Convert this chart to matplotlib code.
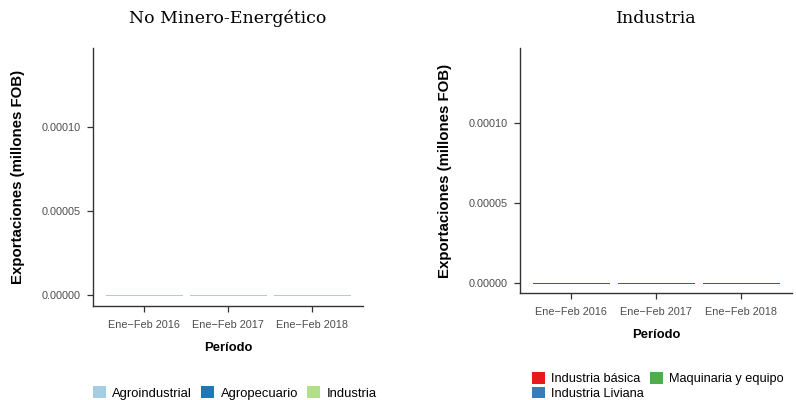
import matplotlib.pyplot as plt
from matplotlib.patches import Patch

plt.rcParams['font.family'] = ['Liberation Sans', 'DejaVu Sans']

periodos = ["Ene\u2212Feb 2016", "Ene\u2212Feb 2017", "Ene\u2212Feb 2018"]

# No Minero-Energético (millones FOB)
grupos_nme = ["Agroindustrial", "Agropecuario", "Industria"]
agroindustrial = [0.0, 0.0, 0.0]
agropecuario = [0.0, 0.0, 0.0]
industria = [0.0, 0.0, 0.0]
colores_nme = ["#A6CEE3", "#1F78B4", "#B2DF8A"]

# Industria (millones FOB)
grupos_ind = ["Industria básica", "Industria Liviana", "Maquinaria y equipo"]
ind_basica = [0.0, 0.0, 0.0]
ind_liviana = [0.0, 0.0, 0.0]
maquinaria = [0.0, 0.0, 0.0]
colores_ind = ["#E41A1C", "#377EB8", "#4DAF4A"]

yticks = [0.0, 0.00005, 0.00010]
yticklabels = ["0.00000", "0.00005", "0.00010"]

fig = plt.figure(figsize=(7.96, 4.0), dpi=100)


def panel(ax, titulo, series, colores):
    x = list(range(1, len(periodos) + 1))
    # ggplot stacks the first level on top, so draw it last
    bottom = [0.0] * len(x)
    for vals, col in list(zip(series, colores))[::-1]:
        bars = ax.bar(x, vals, bottom=bottom, width=0.9, color=col,
                      edgecolor="none")
        bottom = [b + v for b, v in zip(bottom, vals)]
    # outline of the top segment (bars are empty, only this shows)
    ax.hlines([r.get_y() + r.get_height() for r in bars],
              [r.get_x() for r in bars],
              [r.get_x() + r.get_width() for r in bars],
              colors=colores[0], linewidth=0.72, antialiased=False)
    ax.set_xlim(0.4, 3.6)
    ax.set_xticks(x)
    ax.set_xticklabels(periodos)
    ax.set_yticks(yticks)
    ax.set_yticklabels(yticklabels)
    for s in ["top", "right"]:
        ax.spines[s].set_visible(False)
    for s in ["left", "bottom"]:
        ax.spines[s].set_color("#333333")
        ax.spines[s].set_linewidth(1.0)
    ax.tick_params(colors="#333333", labelcolor="#4D4D4D", labelsize=7.8,
                   length=4, width=0.9)
    ax.tick_params(axis="x", pad=6)
    ax.tick_params(axis="y", pad=5)
    ax.set_xlabel("Período", fontsize=9.4, fontweight="bold", labelpad=9)
    ax.set_ylabel("Exportaciones (millones FOB)", fontsize=10.8,
                  fontweight="bold", labelpad=12)
    ax.set_title(titulo, fontsize=12.5, family="DejaVu Serif", pad=18)


ax1 = fig.add_axes([0.1168, 0.235, 0.3392, 0.645])
panel(ax1, "No Minero-Energético", [agroindustrial, agropecuario, industria],
      colores_nme)
ax1.set_ylim(-0.0000066, 0.000147)

ax2 = fig.add_axes([0.6533, 0.2675, 0.3417, 0.6125])
panel(ax2, "Industria", [ind_basica, ind_liviana, maquinaria], colores_ind)
ax2.set_ylim(-0.00000625, 0.000147)

h1 = [Patch(facecolor=c, edgecolor="none") for c in colores_nme]
fig.legend(h1, grupos_nme, loc="center", bbox_to_anchor=(0.295, 0.0175),
           ncol=3, frameon=False, fontsize=9.4, handlelength=1.0,
           handleheight=1.0, handletextpad=0.5, columnspacing=0.7)

h2 = [Patch(facecolor=c, edgecolor="none") for c in colores_ind]
fig.legend(h2, grupos_ind, loc="center left", bbox_to_anchor=(0.657, 0.035),
           ncol=2, frameon=False, fontsize=9.2, handlelength=1.0,
           handleheight=1.0, handletextpad=0.5, columnspacing=0.5,
           labelspacing=0.1, borderpad=0.2)

fig.savefig("out.png", dpi=100)
